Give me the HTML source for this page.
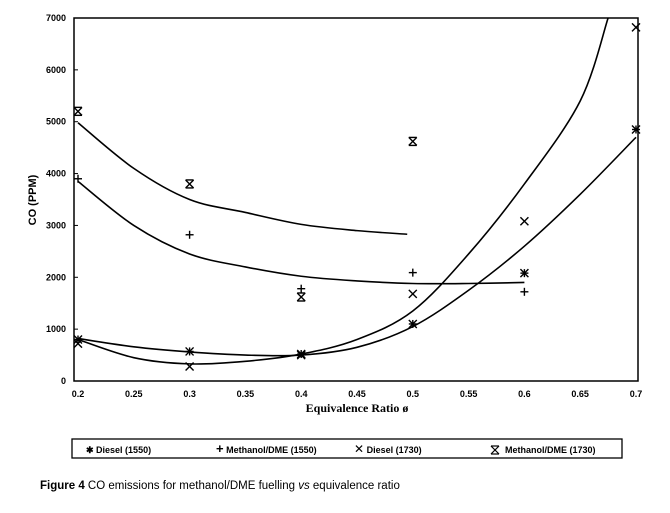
<!DOCTYPE html>
<html><head><meta charset="utf-8"><style>
body{margin:0;background:#fff;}
svg text{font-family:"Liberation Sans",sans-serif;}
</style></head><body>
<svg width="670" height="508" viewBox="0 0 670 508">
<g id="plot"></g>
<g id="axes"></g>
<text x="36" y="200" transform="rotate(-90 36 200)" font-size="11" font-weight="bold" text-anchor="middle">CO (PPM)</text>
<text x="357" y="412" font-size="12" font-weight="bold" text-anchor="middle" style="font-family:'Liberation Serif',serif">Equivalence Ratio ø</text>
<rect x="72" y="439" width="550" height="19" fill="none" stroke="#000" stroke-width="1.3"/>
<g font-size="9" font-weight="bold">
<text x="86" y="453">✱  Diesel (1550)</text>
<text x="216" y="453"><tspan font-size="13">+</tspan>  Methanol/DME (1550)</text>
<text x="354" y="453"><tspan font-size="12" font-weight="normal">✕</tspan>  Diesel (1730)</text>
<g stroke="#000" stroke-width="1.2">
<line x1="491" y1="446" x2="499" y2="454"/><line x1="491" y1="454" x2="499" y2="446"/>
<line x1="491" y1="446" x2="499" y2="446"/><line x1="491" y1="454" x2="499" y2="454"/></g>
<text x="505" y="453">Methanol/DME (1730)</text>
</g>
<text x="40" y="489" font-size="11.5"><tspan font-weight="bold">Figure 4</tspan>  CO emissions for methanol/DME fuelling <tspan font-style="italic">vs</tspan> equivalence ratio</text>
</svg>
<script>
const xTicks=[0.2,0.25,0.3,0.35,0.4,0.45,0.5,0.55,0.6,0.65,0.7];
const yTicks=[0,1000,2000,3000,4000,5000,6000,7000];
const ptX=[0.2,0.3,0.4,0.5,0.6,0.7];
const diesel1550=[800,570,520,1100,2080,4850];
const mdme1550=[3900,2820,1780,2090,1720,null];
const diesel1730=[720,280,500,1680,3080,6820];
const mdme1730=[5200,3800,1620,4620,null,null];
const fitD1550X=[0.2,0.25,0.3,0.35,0.4,0.45,0.5,0.55,0.6,0.65,0.7];
const fitD1550Y=[820,660,560,500,500,650,1050,1750,2600,3600,4700];
const fitD1730X=[0.2,0.25,0.3,0.35,0.4,0.45,0.5,0.55,0.6,0.65,0.675];
const fitD1730Y=[800,450,330,380,520,800,1350,2450,3800,5400,7000];
const fitM1550X=[0.2,0.25,0.3,0.35,0.4,0.45,0.5,0.55,0.6];
const fitM1550Y=[3850,3000,2450,2200,2020,1930,1880,1880,1900];
const fitM1730X=[0.2,0.25,0.3,0.35,0.4,0.45,0.495];
const fitM1730Y=[4980,4100,3500,3250,3020,2900,2830];
const NS="http://www.w3.org/2000/svg";
const X0=78,X1=636,Y0=381,Y1=18;
const sx=v=>X0+(v-0.2)/0.5*(X1-X0);
const sy=v=>Y0-v/7000*(Y0-Y1);
const plot=document.getElementById('plot'),axes=document.getElementById('axes');
function mk(t,a,p){const e=document.createElementNS(NS,t);for(const k in a)e.setAttribute(k,a[k]);p.appendChild(e);return e;}
const frame=mk('rect',{x:74,y:Y1,width:X1+2-74,height:Y0-Y1,fill:'none',stroke:'#000','stroke-width':1.5},axes);


xTicks.forEach(v=>{const t=mk('text',{x:sx(v),y:397,'font-size':9,'font-weight':'bold','text-anchor':'middle'},axes);t.textContent=String(v);

});
yTicks.forEach(v=>{const t=mk('text',{x:66,y:sy(v)+3,'font-size':9,'font-weight':'bold','text-anchor':'end'},axes);t.textContent=String(v);


mk('line',{x1:74,x2:78,y1:sy(v),y2:sy(v),stroke:'#000'},axes);});
function curve(xs,ys,name){
 const p=xs.map((x,i)=>[sx(x),sy(ys[i])]);let d='M'+p[0][0]+','+p[0][1];
 for(let i=0;i<p.length-1;i++){const a=p[i-1]||p[i],b=p[i],c=p[i+1],e=p[i+2]||c;
 d+=' C'+(b[0]+(c[0]-a[0])/6)+','+(b[1]+(c[1]-a[1])/6)+' '+(c[0]-(e[0]-b[0])/6)+','+(c[1]-(e[1]-b[1])/6)+' '+c[0]+','+c[1];}
 const el=mk('path',{d:d,fill:'none',stroke:'#000','stroke-width':1.6},plot);
 
 }
curve(fitD1550X,fitD1550Y,'diesel-1550-fit');
curve(fitD1730X,fitD1730Y,'diesel-1730-fit');
curve(fitM1550X,fitM1550Y,'methanol-dme-1550-fit');
curve(fitM1730X,fitM1730Y,'methanol-dme-1730-fit');
function marker(type,vals,name){vals.forEach((v,i)=>{if(v==null)return;const x=sx(ptX[i]),y=sy(v),s=4;
 const g=mk('g',{stroke:'#000','stroke-width':1.4},plot);
 
 
 if(type==='plus'){mk('line',{x1:x-s,x2:x+s,y1:y,y2:y},g);mk('line',{x1:x,x2:x,y1:y-s,y2:y+s},g);}
 if(type==='x'||type==='star'||type==='hg'){mk('line',{x1:x-s,x2:x+s,y1:y-s,y2:y+s},g);mk('line',{x1:x-s,x2:x+s,y1:y+s,y2:y-s},g);}
 if(type==='star'){mk('line',{x1:x,x2:x,y1:y-s,y2:y+s},g);mk('line',{x1:x-s,x2:x+s,y1:y,y2:y},g);}
 if(type==='hg'){mk('line',{x1:x-s,x2:x+s,y1:y-s,y2:y-s},g);mk('line',{x1:x-s,x2:x+s,y1:y+s,y2:y+s},g);}
});}
marker('star',diesel1550,'diesel-1550-point');
marker('plus',mdme1550,'methanol-dme-1550-point');
marker('x',diesel1730,'diesel-1730-point');
marker('hg',mdme1730,'methanol-dme-1730-point');
</script>
</body></html>
